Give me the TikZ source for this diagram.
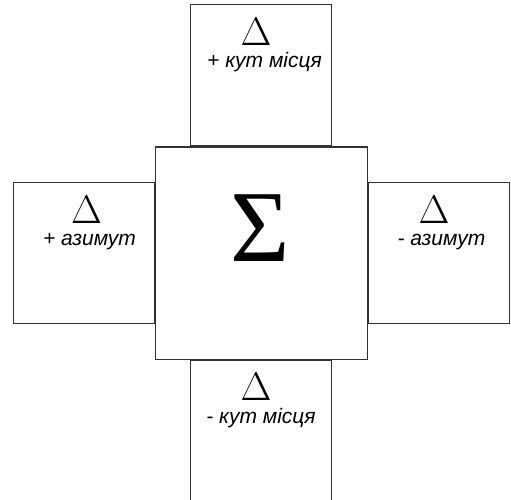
\RequirePackage{fix-cm}
\documentclass[tikz,border=0pt]{standalone}
\usepackage{fontspec}
\setmainfont{Liberation Serif}
\newfontfamily\lblfont{Liberation Sans}
\usetikzlibrary{positioning}

\begin{document}
\begin{tikzpicture}[x=1pt, y=1pt,
        box/.style  = {rectangle, draw=black!80, line width=1pt, inner sep=0pt},
        side/.style = {box, minimum width=141pt, minimum height=141pt},
        dlt/.style  = {font=\fontsize{40}{40}\selectfont, inner sep=0pt},
        lbl/.style  = {font=\lblfont\itshape\fontsize{21}{21}\selectfont, inner sep=0pt},
        node distance = 0pt
    ]
        \useasboundingbox (0,0) rectangle (511,499);
        \clip (0,0) rectangle (511,499);
        \node[box, minimum size=212pt] (sum) at (261,246) {};
        \node[side, above=of sum] (up) {};
        \node[side, left=of sum]  (lf) {};
        \node[side, right=of sum] (rt) {};
        \node[side, below=of sum] (dn) {};
        \node[font=\fontsize{102}{102}\selectfont, inner sep=0pt, below=8pt of sum.center, anchor=base, xshift=-1pt] (sig) {Σ};
        % deltas and captions
        \node[dlt, below=41pt of up.north, anchor=base, xshift=-5pt]   (dup) {$\Delta$};
        \node[lbl, below=63.5pt of up.north, anchor=base, xshift=3.5pt] (tup) {+ кут місця};
        \node[dlt, below=41pt of lf.north, anchor=base, xshift=3pt]    (dlf) {$\Delta$};
        \node[lbl, below=63.5pt of lf.north, anchor=base, xshift=6pt]  (tlf) {+ азимут};
        \node[dlt, below=41pt of rt.north, anchor=base, xshift=-4.5pt] (drt) {$\Delta$};
        \node[lbl, below=63.5pt of rt.north, anchor=base, xshift=3pt]  (trt) {- азимут};
        \node[dlt, below=41pt of dn.north, anchor=base, xshift=-5pt]   (ddn) {$\Delta$};
        \node[lbl, below=63.5pt of dn.north, anchor=base]              (tdn) {- кут місця};
    \end{tikzpicture}
\end{document}
